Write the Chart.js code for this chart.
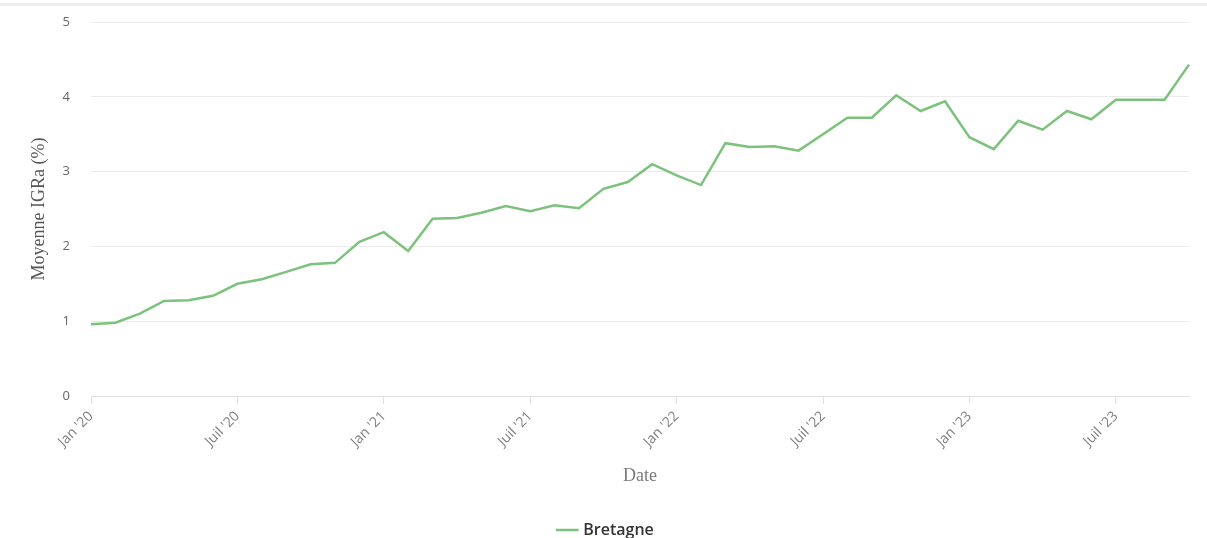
<!DOCTYPE html>
<html>
<head>
<meta charset="utf-8">
<script src="https://cdn.jsdelivr.net/npm/chart.js@4"></script>
<style>
  html, body { margin: 0; padding: 0; background: #fff; overflow: hidden; }
  #wrap { position: relative; width: 1207px; height: 538px; }
  #topline { position: absolute; left: 0; top: 3px; width: 1207px; height: 3px; background: #eeeeee; }
  canvas { position: absolute; left: 0; top: 0; }
</style>
</head>
<body>
<div id="wrap"><div id="topline"></div><canvas id="c" width="1207" height="538"></canvas></div>
<script>
const months = ["Jan","Févr","Mars","Avr","Mai","Juin","Juil","Août","Sept","Oct","Nov","Déc"];
const years = ["20","21","22","23"];
const categories = [];
for (const y of years) for (const m of months) categories.push(m + " '" + y);
categories.length = 46; // Jan '20 → Oct '23

const bretagne = [
  0.96, 0.98, 1.10, 1.27, 1.28, 1.34, 1.50, 1.56, 1.66, 1.76, 1.78, 2.06,
  2.19, 1.94, 2.37, 2.38, 2.45, 2.54, 2.47, 2.55, 2.51, 2.77, 2.86, 3.10,
  2.95, 2.82, 3.38, 3.33, 3.34, 3.28, 3.50, 3.72, 3.72, 4.02, 3.81, 3.94,
  3.46, 3.30, 3.68, 3.56, 3.81, 3.70, 3.96, 3.96, 3.96, 4.43
];
const yTicks = [0, 1, 2, 3, 4, 5];

new Chart(document.getElementById('c'), {
  type: 'line',
  data: {
    labels: categories,
    datasets: [{
      label: 'Bretagne',
      data: bretagne,
      borderColor: '#7cc27c',
      backgroundColor: '#7cc27c',
      borderWidth: 2.5,
      pointRadius: 0,
      pointHoverRadius: 0,
      tension: 0,
      fill: false
    }]
  },
  options: {
    responsive: false,
    animation: false,
    layout: { padding: { left: 24, right: 18, top: 22, bottom: -10 } },
    plugins: {
      tooltip: { enabled: false },
      legend: {
        position: 'bottom',
        labels: {
          usePointStyle: true,
          pointStyle: 'line',
          boxWidth: 24,
          padding: 10,
          color: '#333',
          font: { family: '"Open Sans", sans-serif', size: 16, weight: '600' }
        }
      }
    },
    scales: {
      x: {
        offset: false,
        afterFit: (axis) => { axis.height = 116; },
        border: { display: true, color: '#dfe0e8', width: 1 },
        grid: {
          drawOnChartArea: false,
          drawTicks: true,
          tickLength: 8,
          tickColor: (ctx) => (ctx.index % 6 === 0 ? '#dfe0e8' : 'rgba(0,0,0,0)')
        },
        ticks: {
          autoSkip: false,
          maxRotation: 45,
          minRotation: 45,
          padding: 4,
          color: '#808080',
          font: { family: '"Open Sans", sans-serif', size: 14 },
          callback: function (val, idx) { return idx % 6 === 0 ? categories[idx] : ''; }
        },
        title: {
          display: true,
          text: 'Date',
          color: '#7a7a7a',
          font: { family: '"Liberation Serif", serif', size: 18 },
          padding: { top: 4, bottom: 25 }
        }
      },
      y: {
        min: 0,
        max: 5,
        afterBuildTicks: (axis) => { axis.ticks = yTicks.map(v => ({ value: v })); },
        afterFit: (axis) => { axis.width = 67; axis.paddingTop = 0; axis.paddingBottom = 0; },
        border: { display: false },
        grid: { color: '#ebebeb', lineWidth: 1, drawTicks: false },
        ticks: {
          padding: 21,
          color: '#666',
          font: { family: '"Open Sans", sans-serif', size: 13 }
        },
        title: {
          display: true,
          text: 'Moyenne IGRa (%)',
          color: '#555',
          font: { family: '"Liberation Serif", serif', size: 18 },
          padding: { top: 4, bottom: 4 }
        }
      }
    }
  }
});
</script>
</body>
</html>
